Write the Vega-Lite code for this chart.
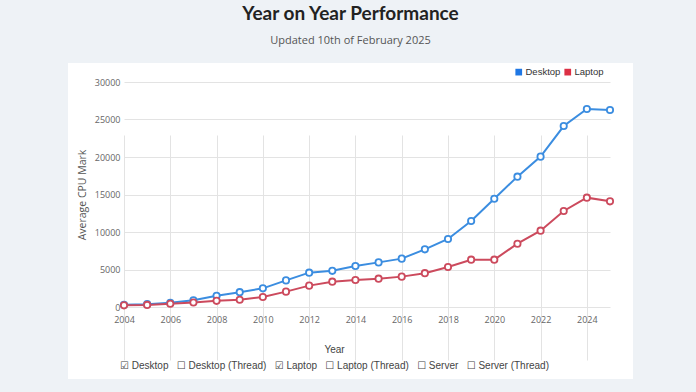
{
  "$schema": "https://vega.github.io/schema/vega-lite/v6.json",
  "width": 565,
  "height": 316,
  "autosize": {"type": "none"},
  "padding": {"left": 68, "top": 63, "right": 63, "bottom": 13},
  "background": "#eef2f6",
  "view": {"fill": "white", "stroke": null},
  "config": {"font": "Open Sans"},
  "title": {
    "text": "Year on Year Performance",
    "subtitle": "Updated 10th of February 2025",
    "anchor": "middle",
    "frame": "group",
    "font": "Lato",
    "fontSize": 19,
    "fontWeight": "bold",
    "color": "#222222",
    "subtitleFont": "Open Sans",
    "subtitleFontSize": 11,
    "subtitleColor": "#555555",
    "subtitlePadding": 11,
    "offset": 17
  },
  "data": {
    "values": [
      {"year": 2004, "type": "Desktop", "mark": 300},
      {"year": 2005, "type": "Desktop", "mark": 380},
      {"year": 2006, "type": "Desktop", "mark": 560},
      {"year": 2007, "type": "Desktop", "mark": 900},
      {"year": 2008, "type": "Desktop", "mark": 1490},
      {"year": 2009, "type": "Desktop", "mark": 1980},
      {"year": 2010, "type": "Desktop", "mark": 2490},
      {"year": 2011, "type": "Desktop", "mark": 3550},
      {"year": 2012, "type": "Desktop", "mark": 4580},
      {"year": 2013, "type": "Desktop", "mark": 4820},
      {"year": 2014, "type": "Desktop", "mark": 5470},
      {"year": 2015, "type": "Desktop", "mark": 5950},
      {"year": 2016, "type": "Desktop", "mark": 6450},
      {"year": 2017, "type": "Desktop", "mark": 7690},
      {"year": 2018, "type": "Desktop", "mark": 9070},
      {"year": 2019, "type": "Desktop", "mark": 11470},
      {"year": 2020, "type": "Desktop", "mark": 14440},
      {"year": 2021, "type": "Desktop", "mark": 17380},
      {"year": 2022, "type": "Desktop", "mark": 20050},
      {"year": 2023, "type": "Desktop", "mark": 24130},
      {"year": 2024, "type": "Desktop", "mark": 26400},
      {"year": 2025, "type": "Desktop", "mark": 26270},
      {"year": 2004, "type": "Laptop", "mark": 220},
      {"year": 2005, "type": "Laptop", "mark": 280},
      {"year": 2006, "type": "Laptop", "mark": 430},
      {"year": 2007, "type": "Laptop", "mark": 600},
      {"year": 2008, "type": "Laptop", "mark": 820},
      {"year": 2009, "type": "Laptop", "mark": 960},
      {"year": 2010, "type": "Laptop", "mark": 1330},
      {"year": 2011, "type": "Laptop", "mark": 2050},
      {"year": 2012, "type": "Laptop", "mark": 2850},
      {"year": 2013, "type": "Laptop", "mark": 3380},
      {"year": 2014, "type": "Laptop", "mark": 3600},
      {"year": 2015, "type": "Laptop", "mark": 3780},
      {"year": 2016, "type": "Laptop", "mark": 4050},
      {"year": 2017, "type": "Laptop", "mark": 4510},
      {"year": 2018, "type": "Laptop", "mark": 5330},
      {"year": 2019, "type": "Laptop", "mark": 6310},
      {"year": 2020, "type": "Laptop", "mark": 6310},
      {"year": 2021, "type": "Laptop", "mark": 8440},
      {"year": 2022, "type": "Laptop", "mark": 10180},
      {"year": 2023, "type": "Laptop", "mark": 12800},
      {"year": 2024, "type": "Laptop", "mark": 14580},
      {"year": 2025, "type": "Laptop", "mark": 14090}
    ]
  },
  "encoding": {
    "x": {
      "field": "year",
      "type": "quantitative",
      "scale": {"domain": [2004, 2025], "range": [56, 542], "nice": false, "zero": false},
      "axis": {
        "offset": -72,
        "values": [2004, 2006, 2008, 2010, 2012, 2014, 2016, 2018, 2020, 2022, 2024],
        "format": "d",
        "labelFont": "Open Sans",
        "labelFontSize": 9,
        "labelColor": "#666666",
        "labelPadding": 5,
        "labelFlush": false,
        "ticks": true,
        "tickSize": 3,
        "tickColor": "#e3e3e3",
        "grid": true,
        "gridColor": "#e3e3e3",
        "domain": false,
        "title": ["Year", "\u2611\u00a0Desktop\u00a0\u00a0\u00a0\u2610\u00a0Desktop (Thread)\u00a0\u00a0\u00a0\u2611\u00a0Laptop\u00a0\u00a0\u00a0\u2610\u00a0Laptop (Thread)\u00a0\u00a0\u00a0\u2610\u00a0Server\u00a0\u00a0\u00a0\u2610\u00a0Server (Thread)"],
        "titleX": 266,
        "titleAlign": "center",
        "titleFont": "Liberation Sans, DejaVu Sans",
        "titleFontSize": 10,
        "titleFontWeight": "normal",
        "titleColor": "#444444",
        "titleLineHeight": 16,
        "titlePadding": 20
      }
    },
    "y": {
      "field": "mark",
      "type": "quantitative",
      "scale": {"domain": [0, 30000], "range": [244, 19], "nice": false, "zero": false},
      "axis": {
        "offset": -56,
        "values": [0, 5000, 10000, 15000, 20000, 25000, 30000],
        "format": "d",
        "labelFont": "Open Sans",
        "labelFontSize": 9,
        "labelColor": "#666666",
        "labelPadding": 4,
        "ticks": false,
        "grid": true,
        "gridColor": "#e3e3e3",
        "domain": false,
        "title": "Average CPU Mark",
        "titleFont": "Open Sans",
        "titleFontSize": 10.5,
        "titleFontWeight": "normal",
        "titleColor": "#555555",
        "titlePadding": 7
      }
    },
    "color": {
      "field": "type",
      "type": "nominal",
      "scale": {"domain": ["Desktop", "Laptop"], "range": ["#3b8de0", "#cc4a5d"]},
      "legend": {
        "orient": "none",
        "legendX": 446,
        "legendY": 4,
        "direction": "horizontal",
        "title": null,
        "symbolType": "square",
        "symbolSize": 45,
        "labelFont": "Liberation Sans",
        "labelFontSize": 9.5,
        "labelColor": "#333333",
        "labelOffset": 2,
        "columnPadding": 2,
        "encode": {
          "symbols": {
            "update": {
              "fill": {"signal": "datum.value === 'Desktop' ? '#1f77e4' : '#dc3045'"},
              "stroke": {"value": "transparent"},
              "strokeWidth": {"value": 0},
              "opacity": {"value": 1}
            }
          }
        }
      }
    }
  },
  "layer": [
    {"mark": {"type": "line", "strokeWidth": 2}},
    {"mark": {"type": "point", "filled": false, "fill": "white", "size": 40, "strokeWidth": 1.8, "opacity": 1}}
  ]
}
